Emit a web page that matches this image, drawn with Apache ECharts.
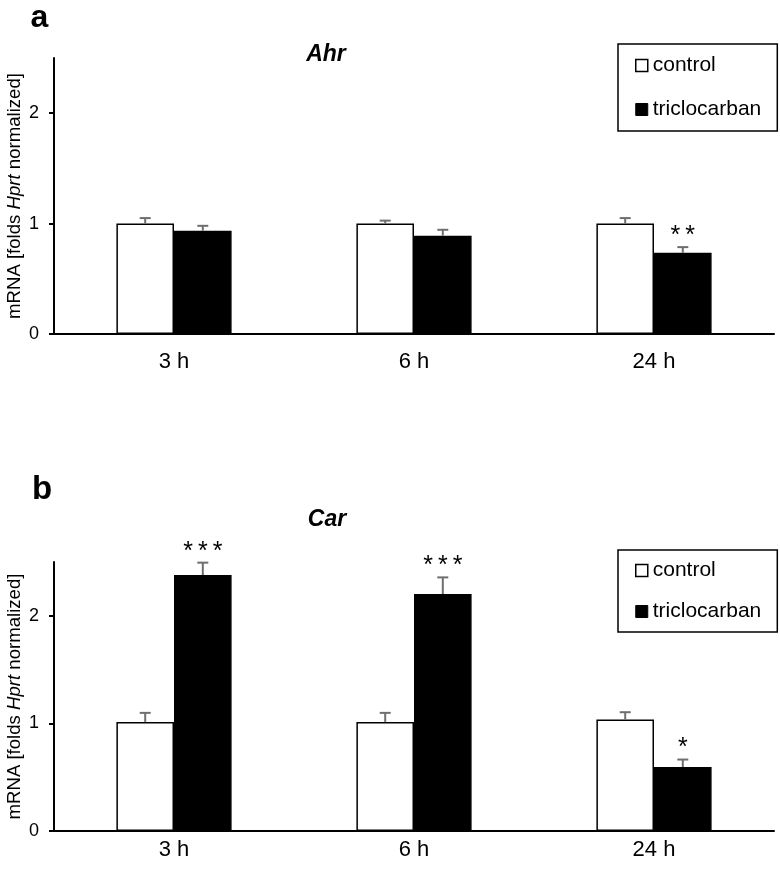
<!DOCTYPE html>
<html><head><meta charset="utf-8">
<script src="https://cdn.jsdelivr.net/npm/echarts@6/dist/echarts.min.js"></script>
<style>html,body{margin:0;padding:0;background:#fff}#c{width:780px;height:875px}</style>
</head><body><div id="c"></div>
<script>
const categories = ['3 h', '6 h', '24 h'];
const seriesNames = ['control', 'triclocarban'];
const yTicks = [0, 1, 2];
const panelLabels = ['a', 'b'];
const geneNames = ['Ahr', 'Car'];

const ahrControl = [1.0, 1.0, 1.0];
const ahrControlSem = [0.05, 0.027, 0.05];
const ahrTcc = [0.935, 0.89, 0.736];
const ahrTccSem = [0.045, 0.054, 0.051];
const ahrTccStars = ['', '', '**'];

const carControl = [1.014, 1.014, 1.036];
const carControlSem = [0.084, 0.084, 0.068];
const carTcc = [2.379, 2.202, 0.595];
const carTccSem = [0.115, 0.155, 0.069];
const carTccStars = ['***', '***', '*'];

const FONT = '"Liberation Sans", Arial, Helvetica, sans-serif';
const ERR = '#6e6e6e';

function errSeries(g, means, sems, stars, side) {
  return {
    type: 'custom', xAxisIndex: g, yAxisIndex: g, z: 5, silent: true,
    data: means.map((m, i) => [i, m, sems[i]]),
    renderItem: function (params, api) {
      const i = api.value(0), m = api.value(1), s = api.value(2);
      const band = api.size([1, 0])[0];
      const off = side * band * 0.12;
      const p0 = api.coord([i, m]);
      const p1 = api.coord([i, m + s]);
      const x = p0[0] + off;
      const ch = [
        { type: 'line', shape: { x1: x, y1: p0[1], x2: x, y2: p1[1] }, style: { stroke: ERR, lineWidth: 2 } },
        { type: 'line', shape: { x1: x - 5.5, y1: p1[1], x2: x + 5.5, y2: p1[1] }, style: { stroke: ERR, lineWidth: 2 } }
      ];
      const st = stars ? stars[params.dataIndex] : '';
      if (st) {
        ch.push({ type: 'text', style: { text: st.split('').join('\u2009'), x: x, y: p1[1] - 11,
          align: 'center', verticalAlign: 'middle', fontSize: 25, fontFamily: FONT, fill: '#000' } });
      }
      return { type: 'group', children: ch };
    }
  };
}

function barSeries(g, name, data, fill) {
  return {
    type: 'bar', name: name, xAxisIndex: g, yAxisIndex: g, data: data,
    barGap: '0%', barCategoryGap: '52%', silent: true,
    itemStyle: { color: fill, borderColor: '#000', borderWidth: 1.5 }
  };
}

function xAxis(g, margin) {
  return {
    type: 'category', gridIndex: g, data: categories,
    axisLine: { lineStyle: { color: '#000', width: 2 } },
    axisTick: { show: false },
    axisLabel: { fontSize: 22, color: '#000', margin: margin, fontFamily: FONT }
  };
}
function yAxis(g) {
  return {
    type: 'value', gridIndex: g, min: 0, max: 2.5, interval: 1,
    splitLine: { show: false },
    axisLine: { show: true, lineStyle: { color: '#000', width: 2 } },
    axisTick: { show: true, length: 5, lineStyle: { color: '#000', width: 2 }, customValues: yTicks },
    axisLabel: { fontSize: 18, color: '#000', margin: 15, fontFamily: FONT, customValues: yTicks },
    name: '{n|mRNA [folds }{i|Hprt}{n| normalized]}',
    nameLocation: 'middle', nameRotate: 90, nameGap: 30, nameMoveOverlap: false,
    nameTextStyle: { rich: {
      n: { fontSize: 18.6, color: '#000', fontFamily: FONT },
      i: { fontSize: 18.6, color: '#000', fontFamily: FONT, fontStyle: 'italic' }
    } }
  };
}
function legend(top, gap, pad) {
  return {
    left: 618, top: top, orient: 'vertical', icon: 'rect', itemWidth: 12, itemHeight: 12,
    itemGap: gap, padding: pad, borderColor: '#000', borderWidth: 1.5, selectedMode: false,
    textStyle: { fontSize: 21, color: '#000', fontFamily: FONT },
    data: [
      { name: seriesNames[0], itemStyle: { color: '#fff', borderColor: '#000', borderWidth: 1.5 } },
      { name: seriesNames[1], itemStyle: { color: '#000', borderColor: '#000', borderWidth: 1 } }
    ]
  };
}

const chart = echarts.init(document.getElementById('c'));
chart.setOption({
  animation: false,
  backgroundColor: '#fff',
  textStyle: { fontFamily: FONT },
  grid: [
    { left: 54, top: 58, width: 720, height: 276, containLabel: false, outerBoundsMode: 'none' },
    { left: 54, top: 562, width: 720, height: 269, containLabel: false, outerBoundsMode: 'none' }
  ],
  xAxis: [xAxis(0, 17), xAxis(1, 8)],
  yAxis: [yAxis(0), yAxis(1)],
  legend: [legend(44, 23, [11, 16, 11, 17]), legend(550, 20, [10, 16, 10, 17])],
  graphic: [
    { type: 'text', x: 39.5, y: 18, style: { text: panelLabels[0], align: 'center', verticalAlign: 'middle', fontSize: 32, fontWeight: 'bold', fontFamily: FONT, fill: '#000' } },
    { type: 'text', x: 42, y: 490, style: { text: panelLabels[1], align: 'center', verticalAlign: 'middle', fontSize: 33, fontWeight: 'bold', fontFamily: FONT, fill: '#000' } },
    { type: 'text', x: 326, y: 55, style: { text: geneNames[0], align: 'center', verticalAlign: 'middle', fontSize: 23, fontWeight: 'bold', fontStyle: 'italic', fontFamily: FONT, fill: '#000' } },
    { type: 'text', x: 327, y: 519.5, style: { text: geneNames[1], align: 'center', verticalAlign: 'middle', fontSize: 23, fontWeight: 'bold', fontStyle: 'italic', fontFamily: FONT, fill: '#000' } }
  ],
  series: [
    barSeries(0, seriesNames[0], ahrControl, '#fff'),
    barSeries(0, seriesNames[1], ahrTcc, '#000'),
    errSeries(0, ahrControl, ahrControlSem, null, -1),
    errSeries(0, ahrTcc, ahrTccSem, ahrTccStars, 1),
    barSeries(1, seriesNames[0], carControl, '#fff'),
    barSeries(1, seriesNames[1], carTcc, '#000'),
    errSeries(1, carControl, carControlSem, null, -1),
    errSeries(1, carTcc, carTccSem, carTccStars, 1)
  ]
});
</script>
</body></html>
